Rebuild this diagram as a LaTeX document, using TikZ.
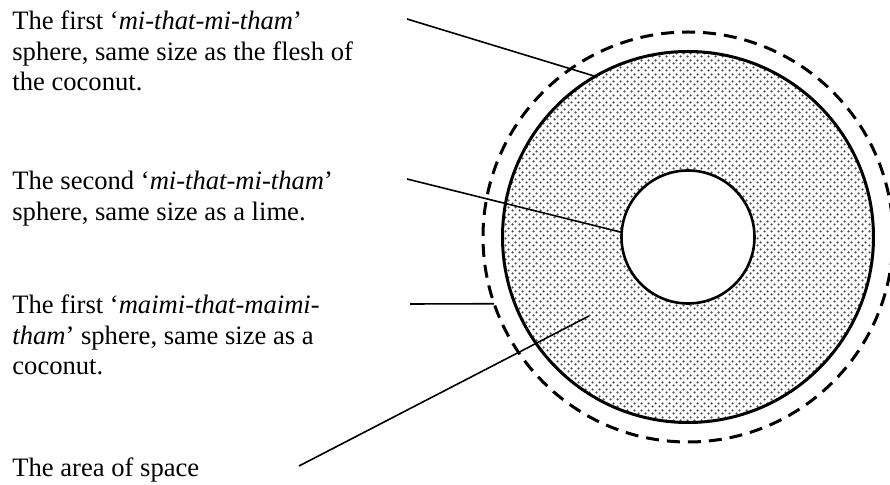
\documentclass[tikz,border=0pt]{standalone}
\usepackage{fontspec}
\setmainfont{Liberation Serif}
\usepackage{tikz}
\usetikzlibrary{patterns}
\pgfdeclarepatternformonly{fleshdots}{\pgfpointorigin}{\pgfqpoint{3.5pt}{3.5pt}}{\pgfqpoint{3.5pt}{3.5pt}}{%
  \pgfpathcircle{\pgfqpoint{0.875pt}{0.875pt}}{0.7pt}
  \pgfpathcircle{\pgfqpoint{2.625pt}{2.625pt}}{0.7pt}
  \pgfusepath{fill}}

\begin{document}
\begin{tikzpicture}[x=0.5pt,y=-0.5pt,
  lbl/.style={anchor=base west,inner sep=0pt,align=left,font=\fontsize{13.3}{15.25}\selectfont},
  ptr/.style={line width=0.8pt},
  ring/.style={circle,draw,inner sep=0pt,outer sep=0pt}]
\useasboundingbox (0,0) rectangle (890,485);
\coordinate (ctr) at (688,237);
\node[ring,minimum size=205pt,line width=1.5pt,dash pattern=on 6.5pt off 4pt] (husk) at (ctr) {};
\node[ring,minimum size=185.5pt,line width=1.5pt,pattern=fleshdots,pattern color=black!70] (flesh) at (ctr) {};
\node[ring,minimum size=66.5pt,line width=1.3pt,fill=white] (lime) at (ctr) {};
\node[lbl] (first) at (12,91) {The first ‘\textit{mi-that-mi-tham}’\\sphere, same size as the flesh of\\the coconut.};
\node[lbl] (second) at (12,220.5) {The second ‘\textit{mi-that-mi-tham}’\\sphere, same size as a lime.};
\node[lbl] (maimi) at (12,375) {The first ‘\textit{maimi-that-maimi-}\\\textit{tham}’ sphere, same size as a\\coconut.};
\node[lbl] (space) at (12,477) {The area of space};
\coordinate (p1) at (407,19);
\coordinate (p2) at (407,179);
\coordinate (p3) at (410,304);
\coordinate (p4) at (299,466);
\coordinate (gap) at (589,316);
\draw[ptr] (p1) -- (flesh.120);
\draw[ptr] (p2) -- (lime.176);
\draw[ptr] (p3) -- (husk.199);
\draw[ptr] (p4) -- (gap);
\end{tikzpicture}
\end{document}
